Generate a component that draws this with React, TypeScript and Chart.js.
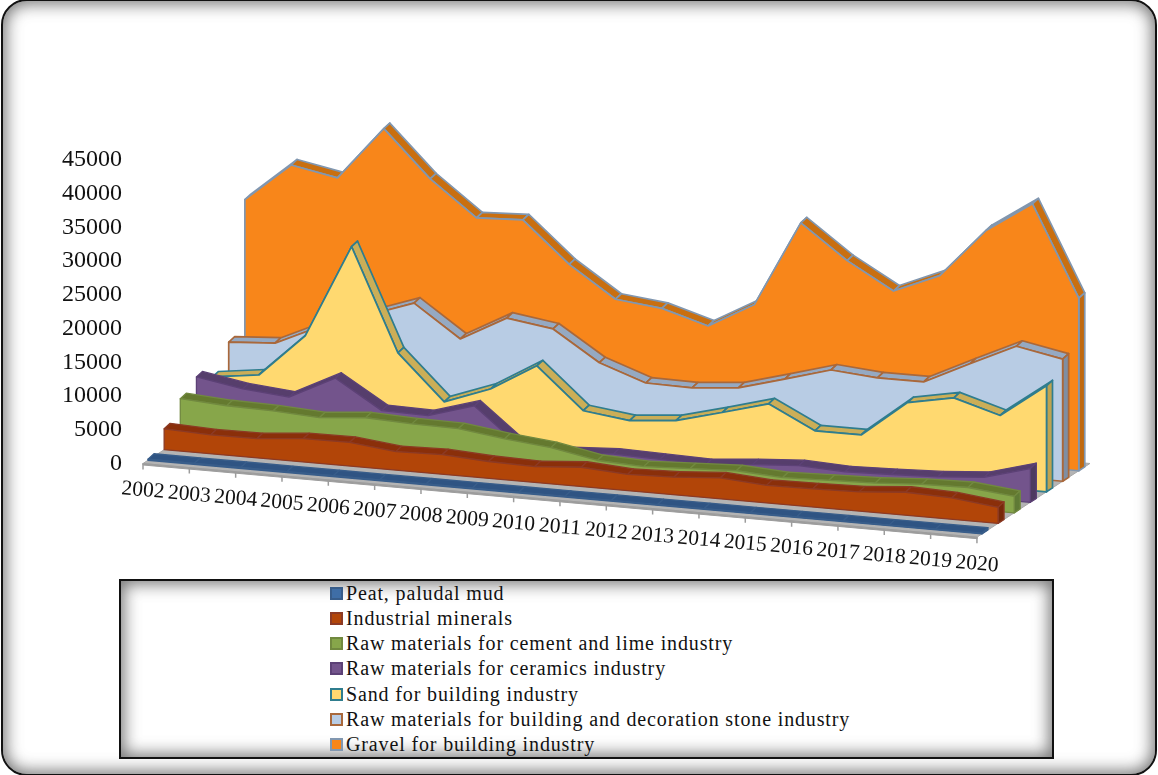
import React, { useEffect, useRef } from "react";
import { Chart, registerables } from "chart.js";

Chart.register(...registerables);

const years = ["2002","2003","2004","2005","2006","2007","2008","2009","2010","2011","2012","2013","2014","2015","2016","2017","2018","2019","2020"];

const peat = [150,140,140,130,130,120,120,120,110,110,110,100,100,100,100,100,100,100,100];
const industrialMinerals = [3100,2800,2850,3450,3500,2750,2900,2500,2360,2860,2400,2600,3100,2600,2700,2850,3400,3170,2370];
const cementLime = [6000,5560,5400,5000,5600,5300,5200,4300,3600,2300,2000,2300,2600,2200,2400,2600,3000,3150,2450];
const ceramics = [7670,6500,5900,9300,5100,4950,7000,1500,1300,1700,1500,1350,1950,2400,2100,2300,2550,3100,5000];
const sand = [6100,7000,13400,27240,12100,5450,7950,12000,5950,5100,5700,7500,9400,6000,6000,11400,12700,10700,15700];
const buildingStone = [9700,10150,13300,15500,17900,13200,16900,15900,11500,9100,9000,9600,11500,13460,12900,12900,16200,19400,18100];
const gravel = [29250,35000,33700,41600,34760,29600,29900,23900,19350,18600,16600,20400,33100,28100,24200,27100,34400,38950,25560];

const seriesNames = [
  "Peat, paludal mud",
  "Industrial minerals",
  "Raw materials for cement and lime industry",
  "Raw materials for ceramics industry",
  "Sand for building industry",
  "Raw materials for building and decoration stone industry",
  "Gravel for building industry",
];
const seriesValues = [peat, industrialMinerals, cementLime, ceramics, sand, buildingStone, gravel];
const faceColors = ["#3F6EA6", "#B24508", "#87A64A", "#73548C", "#FFD970", "#B8CCE4", "#F8861A"];
const topColors = ["#2F5483", "#8A2F0A", "#64792F", "#563E6C", "#CBAE57", "#95A9C2", "#C96F10"];
const sideColors = ["#27466E", "#78290A", "#5F7A35", "#4D3A60", "#BFA350", "#7F8EA3", "#C0690F"];
const edgeColors = ["#385D8A", "#8C3A24", "#71893F", "#5C4176", "#2F7D8E", "#A9683B", "#8197B0"];

// Oblique projection of the category / depth / value space onto the canvas.
const ORIGIN_X = 143;
const ORIGIN_Y = 463;
const CAT_DX = 46.33;
const CAT_DY = 4.11;
const DEPTH_DX = 113 / 7;
const DEPTH_DY = -74 / 7;
const PX_PER_UNIT = 305 / 45000;
const SLAB_FRONT = 0.31;
const SLAB_DEPTH = 0.37;
const SLAB_LIFT = 1.6 / PX_PER_UNIT;

const AREA = { left: 130, right: 1150, top: 20, bottom: 580 };

type P = { x: number; y: number };

function project(cat: number, depth: number, value: number): P {
  return {
    x: cat + (depth * DEPTH_DX) / CAT_DX,
    y: value - (cat * CAT_DY + depth * DEPTH_DY) / PX_PER_UNIT,
  };
}

function polygon(data: P[], fillColor: string, edge: string, width: number) {
  return {
    data: [...data, data[0]],
    showLine: true,
    fill: "shape",
    backgroundColor: fillColor,
    borderColor: edge,
    borderWidth: width,
    borderJoinStyle: "round",
    borderCapStyle: "round",
    pointRadius: 0,
    pointHoverRadius: 0,
    tension: 0,
  };
}

function polyline(data: P[], color: string, width: number) {
  return {
    data,
    showLine: true,
    fill: false,
    borderColor: color,
    borderWidth: width,
    pointRadius: 0,
    pointHoverRadius: 0,
    tension: 0,
  };
}

// Datasets listed in painting order: floor first, then the slabs from back to front.
function buildDatasets() {
  const last = years.length - 1;
  const out: any[] = [];
  const lipUnits = 3 / PX_PER_UNIT;
  out.push(
    polygon(
      [project(0, 0, 0), project(last, 0, 0), project(last, 7, 0), project(0, 7, 0)],
      "#B4B4B4",
      "#A8A8A8",
      1
    )
  );
  out.push(
    polygon(
      [project(0, 0, 0), project(last, 0, 0), project(last, 0, -lipUnits * 0.5), project(0, 0, -lipUnits * 0.5)],
      "#9C9C9C",
      "#9C9C9C",
      1
    )
  );
  years.forEach((_, i) => {
    out.push(polyline([project(i, 0, 0), project(i, 0, -6 / PX_PER_UNIT)], "#9C9C9C", 1.5));
  });

  for (let s = seriesValues.length - 1; s >= 0; s--) {
    const values = seriesValues[s];
    const front = s + SLAB_FRONT;
    const back = front + SLAB_DEPTH;
    const lineW = s >= 4 ? 1.7 : 1.3;
    for (let i = 0; i < last; i++) {
      out.push(
        polygon(
          [
            project(i, front, values[i]),
            project(i + 1, front, values[i + 1]),
            project(i + 1, back, values[i + 1] + SLAB_LIFT),
            project(i, back, values[i] + SLAB_LIFT),
          ],
          topColors[s],
          edgeColors[s],
          lineW
        )
      );
    }
    out.push(
      polygon(
        [
          project(last, front, 0),
          project(last, front, values[last]),
          project(last, back, values[last] + SLAB_LIFT),
          project(last, back, 0),
        ],
        sideColors[s],
        edgeColors[s],
        lineW
      )
    );
    const face: P[] = values.map((v, i) => project(i, front, v));
    face.push(project(last, front, 0), project(0, front, 0));
    out.push(polygon(face, faceColors[s], edgeColors[s], lineW));
  }
  return out.map((d, k) => ({ ...d, order: out.length - k }));
}

// Year labels follow the slanted front edge of the floor.
const yearLabels = {
  id: "yearLabels",
  afterDatasetsDraw(chart: any) {
    const { ctx, scales } = chart;
    ctx.save();
    ctx.font = '21.5px "Liberation Serif"';
    ctx.fillStyle = "#111";
    ctx.textAlign = "center";
    ctx.textBaseline = "middle";
    years.forEach((label, i) => {
      const p = project(i, 0, 0);
      const px = scales.x.getPixelForValue(p.x);
      const py = scales.y.getPixelForValue(p.y) + 27;
      ctx.save();
      ctx.translate(px, py);
      ctx.rotate(0.085);
      ctx.fillText(label, 0, 0);
      ctx.restore();
    });
    ctx.restore();
  },
};

export default function App() {
  const canvasRef = useRef<HTMLCanvasElement | null>(null);

  useEffect(() => {
    const chart = new Chart(canvasRef.current as HTMLCanvasElement, {
      type: "scatter",
      data: { datasets: buildDatasets() as any },
      options: {
        animation: false,
        responsive: false,
        events: [],
        layout: {
          padding: {
            left: 0,
            top: AREA.top,
            right: 1158 - AREA.right,
            bottom: 775 - AREA.bottom,
          },
        },
        plugins: { legend: { display: false }, tooltip: { enabled: false } },
        scales: {
          x: {
            type: "linear",
            display: false,
            min: (AREA.left - ORIGIN_X) / CAT_DX,
            max: (AREA.right - ORIGIN_X) / CAT_DX,
          },
          y: {
            type: "linear",
            min: (ORIGIN_Y - AREA.bottom) / PX_PER_UNIT,
            max: (ORIGIN_Y - AREA.top) / PX_PER_UNIT,
            afterFit(scale: any) {
              scale.width = AREA.left;
            },
            afterBuildTicks(scale: any) {
              const ticks = [];
              for (let v = 0; v <= 45000; v += 5000) ticks.push({ value: v });
              scale.ticks = ticks;
            },
            border: { display: false },
            grid: { display: false, drawTicks: false },
            ticks: {
              padding: 8,
              color: "#111",
              autoSkip: false,
              font: { family: '"Liberation Serif"', size: 24 },
              callback: (v: any) => String(v),
            },
          },
        },
      } as any,
      plugins: [yearLabels],
    });
    return () => chart.destroy();
  }, []);

  return (
    <div
      style={{
        position: "fixed",
        left: 0,
        top: 0,
        width: 1158,
        height: 775,
        background: "#fff",
        overflow: "hidden",
      }}
    >
      <div
        style={{
          position: "absolute",
          left: 1,
          top: -1,
          width: 1156,
          height: 777,
          boxSizing: "border-box",
          border: "2px solid #111",
          borderRadius: 26,
          boxShadow: "inset 0 0 16px 3px rgba(70,70,70,0.75)",
        }}
      />
      <canvas ref={canvasRef} width={1158} height={775} style={{ position: "absolute", left: 0, top: 0 }} />
      <div
        style={{
          position: "absolute",
          left: 119,
          top: 579,
          width: 935,
          height: 180,
          boxSizing: "border-box",
          border: "2px solid #111",
          background: "#fff",
          boxShadow: "inset 0 0 16px 3px rgba(70,70,70,0.75)",
        }}
      />
      {seriesNames.map((name, s) => (
        <div
          key={name}
          style={{
            position: "absolute",
            left: 330,
            top: 593 + s * 25.33 - 13,
            height: 26,
            display: "flex",
            alignItems: "center",
            whiteSpace: "nowrap",
            fontFamily: '"Liberation Serif"',
            fontSize: 20,
            letterSpacing: "0.86px",
            color: "#111",
          }}
        >
          <span
            style={{
              display: "inline-block",
              width: 13,
              height: 13,
              boxSizing: "border-box",
              border: `2px solid ${edgeColors[s]}`,
              background: faceColors[s],
              marginRight: 3,
            }}
          />
          {name}
        </div>
      ))}
    </div>
  );
}
